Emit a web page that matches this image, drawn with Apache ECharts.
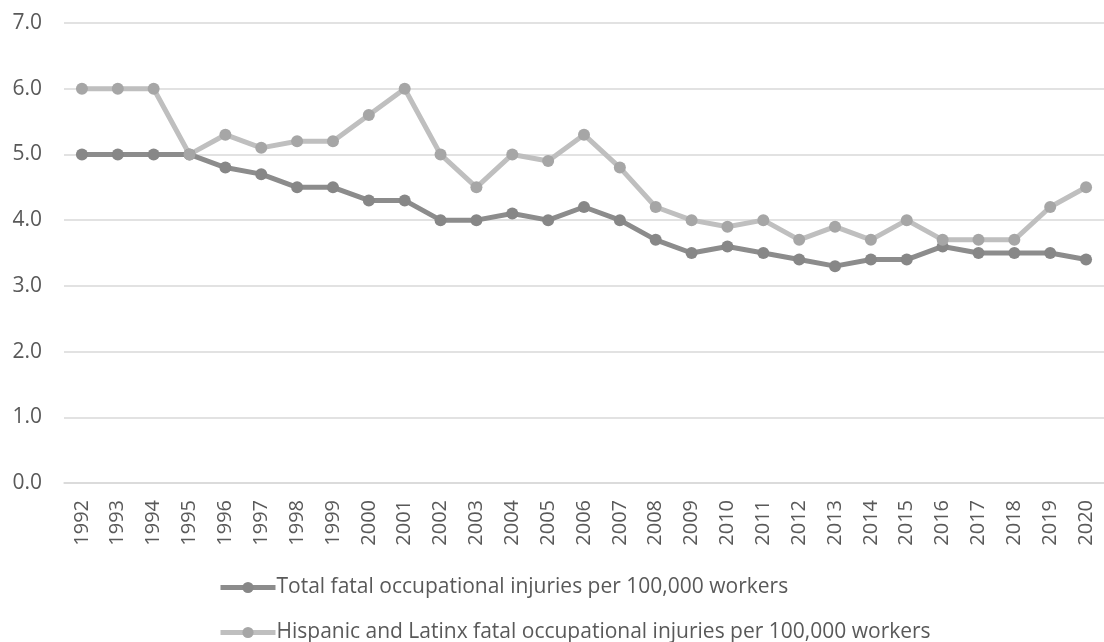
<!DOCTYPE html>
<html>
<head>
  <meta charset="utf-8">
  <title>Fatal occupational injuries</title>
  <script src="https://cdn.jsdelivr.net/npm/echarts@6/dist/echarts.min.js"></script>
  <style>
    html, body { margin: 0; padding: 0; background: #fff; }
    #main { width: 1104px; height: 642px; }
  </style>
</head>
<body>
<div id="main"></div>
<script>
// data
var years = ['1992','1993','1994','1995','1996','1997','1998','1999','2000','2001',
  '2002','2003','2004','2005','2006','2007','2008','2009','2010','2011',
  '2012','2013','2014','2015','2016','2017','2018','2019','2020'];
var totalRate = [5.0,5.0,5.0,5.0,4.8,4.7,4.5,4.5,4.3,4.3,
  4.0,4.0,4.1,4.0,4.2,4.0,3.7,3.5,3.6,3.5,
  3.4,3.3,3.4,3.4,3.6,3.5,3.5,3.5,3.4];
var hispanicRate = [6.0,6.0,6.0,5.0,5.3,5.1,5.2,5.2,5.6,6.0,
  5.0,4.5,5.0,4.9,5.3,4.8,4.2,4.0,3.9,4.0,
  3.7,3.9,3.7,4.0,3.7,3.7,3.7,4.2,4.5];
var seriesNames = ['Total fatal occupational injuries per 100,000 workers',
  'Hispanic and Latinx fatal occupational injuries per 100,000 workers'];

var chart = echarts.init(document.getElementById('main'));
var font = '"Open Sans", sans-serif';

// one legend per row, stacked like the original
function legendRow(name, top) {
  return {
    left: 218,
    top: top,
    itemWidth: 55,
    itemHeight: 14,
    padding: 0,
    lineStyle: { width: 5 },
    textStyle: { fontFamily: font, fontSize: 21, color: '#595959', padding: [0, 0, 0, -4] },
    data: [name]
  };
}

chart.setOption({
  animation: false,
  grid: { left: 64, right: -12, top: 23, bottom: 159 },
  legend: [legendRow(seriesNames[0], 577), legendRow(seriesNames[1], 622)],
  xAxis: {
    type: 'category',
    data: years,
    boundaryGap: true,
    axisLine: { lineStyle: { color: '#d9d9d9', width: 1.5 } },
    axisTick: { show: false },
    axisLabel: { rotate: 90, fontFamily: font, fontSize: 20, color: '#595959', margin: 17, interval: 0 }
  },
  yAxis: {
    type: 'value',
    min: 0,
    max: 7,
    interval: 1,
    axisLine: { show: false },
    axisTick: { show: false },
    splitLine: { lineStyle: { color: '#d9d9d9', width: 1.5 } },
    axisLabel: {
      fontFamily: font, fontSize: 21, color: '#595959', margin: 22,
      formatter: function (v) { return v.toFixed(1); }
    }
  },
  series: [
    {
      name: seriesNames[0],
      type: 'line',
      data: totalRate,
      symbol: 'circle',
      symbolSize: 12,
      lineStyle: { color: '#8c8c8c', width: 5 },
      itemStyle: { color: '#878787' }
    },
    {
      name: seriesNames[1],
      type: 'line',
      data: hispanicRate,
      symbol: 'circle',
      symbolSize: 12,
      lineStyle: { color: '#bfbfbf', width: 5 },
      itemStyle: { color: '#a6a6a6' }
    }
  ]
});
</script>
</body>
</html>
